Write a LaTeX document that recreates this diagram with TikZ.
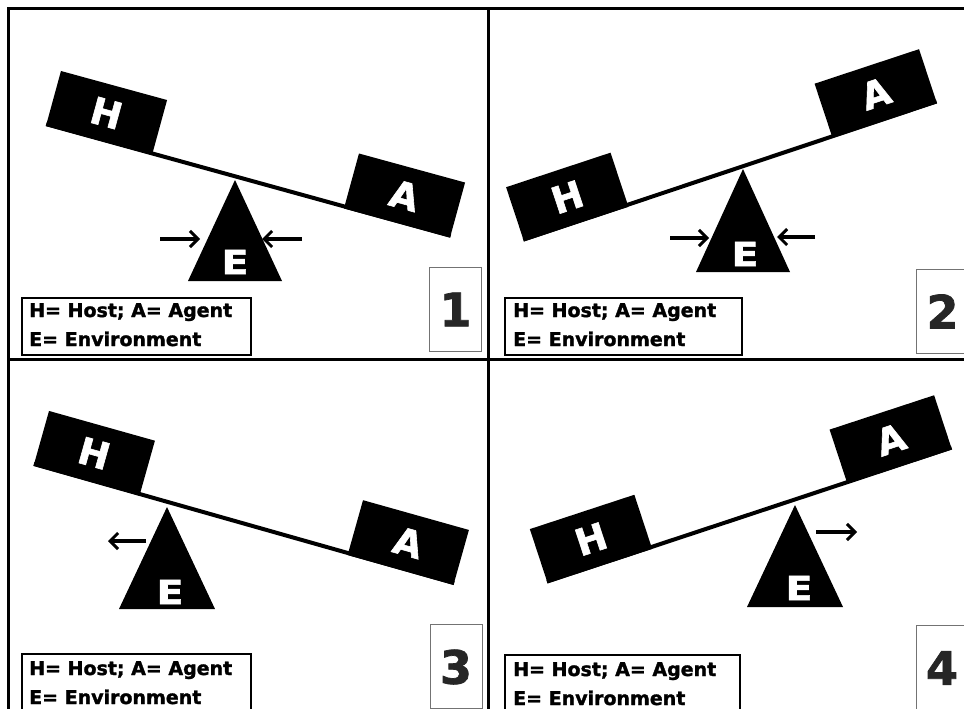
\documentclass[tikz,border=0pt]{standalone}
\usepackage{fontspec}
\setmainfont{DejaVu Sans}
\newfontface\heavyfont{DejaVu Sans Bold}[FakeBold=1.6]
\usetikzlibrary{arrows.meta,calc}
\tikzset{
  frameline/.style={line width=3pt},
  block/.style={fill=black, draw=none, minimum width=110pt, minimum height=57pt,
    inner sep=0pt, text=white, font=\fontsize{37}{37}\heavyfont},
  beam/.style={line width=4pt},
  fulcrum/.style={fill=black},
  elabel/.style={text=white, inner sep=0pt, xscale=1.2, font=\fontsize{33}{33}\heavyfont},
  push/.style={line width=3.2pt, -{Straight Barb[length=8pt,width=16pt,line width=3pt]}},
  legend/.style={draw, line width=2pt, minimum height=57pt, anchor=north west, inner sep=0pt},
  legtext/.style={anchor=base west, inner sep=0pt, font=\fontsize{19}{19}\heavyfont},
  numbox/.style={draw=black!55, line width=1pt, minimum width=52pt, minimum height=84pt,
    anchor=north west, inner sep=0pt},
  numtext/.style={inner sep=0pt, text=black!85, font=\fontsize{46}{46}\heavyfont}
}
\begin{document}
\begin{tikzpicture}[x=1pt,y=-1pt]
\useasboundingbox (0,0) rectangle (964,709);
\clip (0,0) rectangle (964,709);
\fill[white] (0,0) rectangle (964,709);
% frame
\draw[frameline] (8,9) rectangle (980,730);
\draw[frameline] (488,9) -- (488,730);
\draw[frameline] (8,359) -- (980,359);

% ---------- Panel 1 ----------
\node[block, rotate=-15.3] (H1) at (106.5,113) {H};
\node[block, rotate=-15.3] (A1) at (404.5,195.5) {A};
\draw[beam] ($(H1.south west)!2pt!(H1.north west)$) -- ($(A1.south east)!2pt!(A1.north east)$);
\coordinate (P1) at (235,180);
\fill[fulcrum] (P1) -- ++(-47,101) -- ++(94,0) -- cycle;
\node[elabel] (E1) at (235,262) {E};
\coordinate (a1s) at (160,239); \coordinate (a1e) at (200,239);
\coordinate (b1s) at (302,239); \coordinate (b1e) at (262,239);
\draw[push] (a1s) -- (a1e);
\draw[push] (b1s) -- (b1e);
\node[legend, minimum width=229pt] (L1) at (21,297) {};
\node[legtext] (L1a) at (29,317) {H= Host; A= Agent};
\node[legtext] (L1b) at (29,346) {E= Environment};
\node[numbox] (N1) at (429,267) {};
\node[numtext] (n1) at (N1.center) {1};

% ---------- Panel 2 ----------
\node[block, rotate=18.3] (H2) at (567.25,197) {H};
\node[block, rotate=18.3] (A2) at (875.75,93.5) {A};
\draw[beam] ($(H2.south west)!2pt!(H2.north west)$) -- ($(A2.south east)!2pt!(A2.north east)$);
\coordinate (P2) at (743,169);
\fill[fulcrum] (P2) -- ++(-47,103) -- ++(94,0) -- cycle;
\node[elabel] (E2) at (745,254) {E};
\coordinate (a2s) at (670,238); \coordinate (a2e) at (709,238);
\coordinate (b2s) at (815,237); \coordinate (b2e) at (777,237);
\draw[push] (a2s) -- (a2e);
\draw[push] (b2s) -- (b2e);
\node[legend, minimum width=237pt] (L2) at (504,297) {};
\node[legtext] (L2a) at (513,317) {H= Host; A= Agent};
\node[legtext] (L2b) at (513,346) {E= Environment};
\node[numbox] (N2) at (916,269) {};
\node[numtext] (n2) at (N2.center) {2};

% ---------- Panel 3 ----------
\node[block, rotate=-15.7] (H3) at (94.25,453.25) {H};
\node[block, rotate=-15.7] (A3) at (408.25,542.5) {A};
\draw[beam] ($(H3.south west)!2pt!(H3.north west)$) -- ($(A3.south east)!2pt!(A3.north east)$);
\coordinate (P3) at (167,507);
\fill[fulcrum] (P3) -- ++(-48,102) -- ++(96,0) -- cycle;
\node[elabel] (E3) at (170,592) {E};
\coordinate (a3s) at (146,541); \coordinate (a3e) at (108,541);
\draw[push] (a3s) -- (a3e);
\node[legend, minimum width=229pt] (L3) at (21,653) {};
\node[legtext] (L3a) at (29,675) {H= Host; A= Agent};
\node[legtext] (L3b) at (29,704) {E= Environment};
\node[numbox] (N3) at (430,624) {};
\node[numtext] (n3) at (456,667) {3};

% ---------- Panel 4 ----------
\node[block, rotate=18.2] (H4) at (591,539) {H};
\node[block, rotate=18.2] (A4) at (890.75,439.5) {A};
\draw[beam] ($(H4.south west)!2pt!(H4.north west)$) -- ($(A4.south east)!2pt!(A4.north east)$);
\coordinate (P4) at (795,505);
\fill[fulcrum] (P4) -- ++(-48,102) -- ++(96,0) -- cycle;
\node[elabel] (E4) at (799,588) {E};
\coordinate (a4s) at (816,532); \coordinate (a4e) at (857,532);
\draw[push] (a4s) -- (a4e);
\node[legend, minimum width=235pt] (L4) at (504,654) {};
\node[legtext] (L4a) at (513,676) {H= Host; A= Agent};
\node[legtext] (L4b) at (513,705) {E= Environment};
\node[numbox] (N4) at (916,625) {};
\node[numtext] (n4) at (942,668) {4};
\end{tikzpicture}
\end{document}
